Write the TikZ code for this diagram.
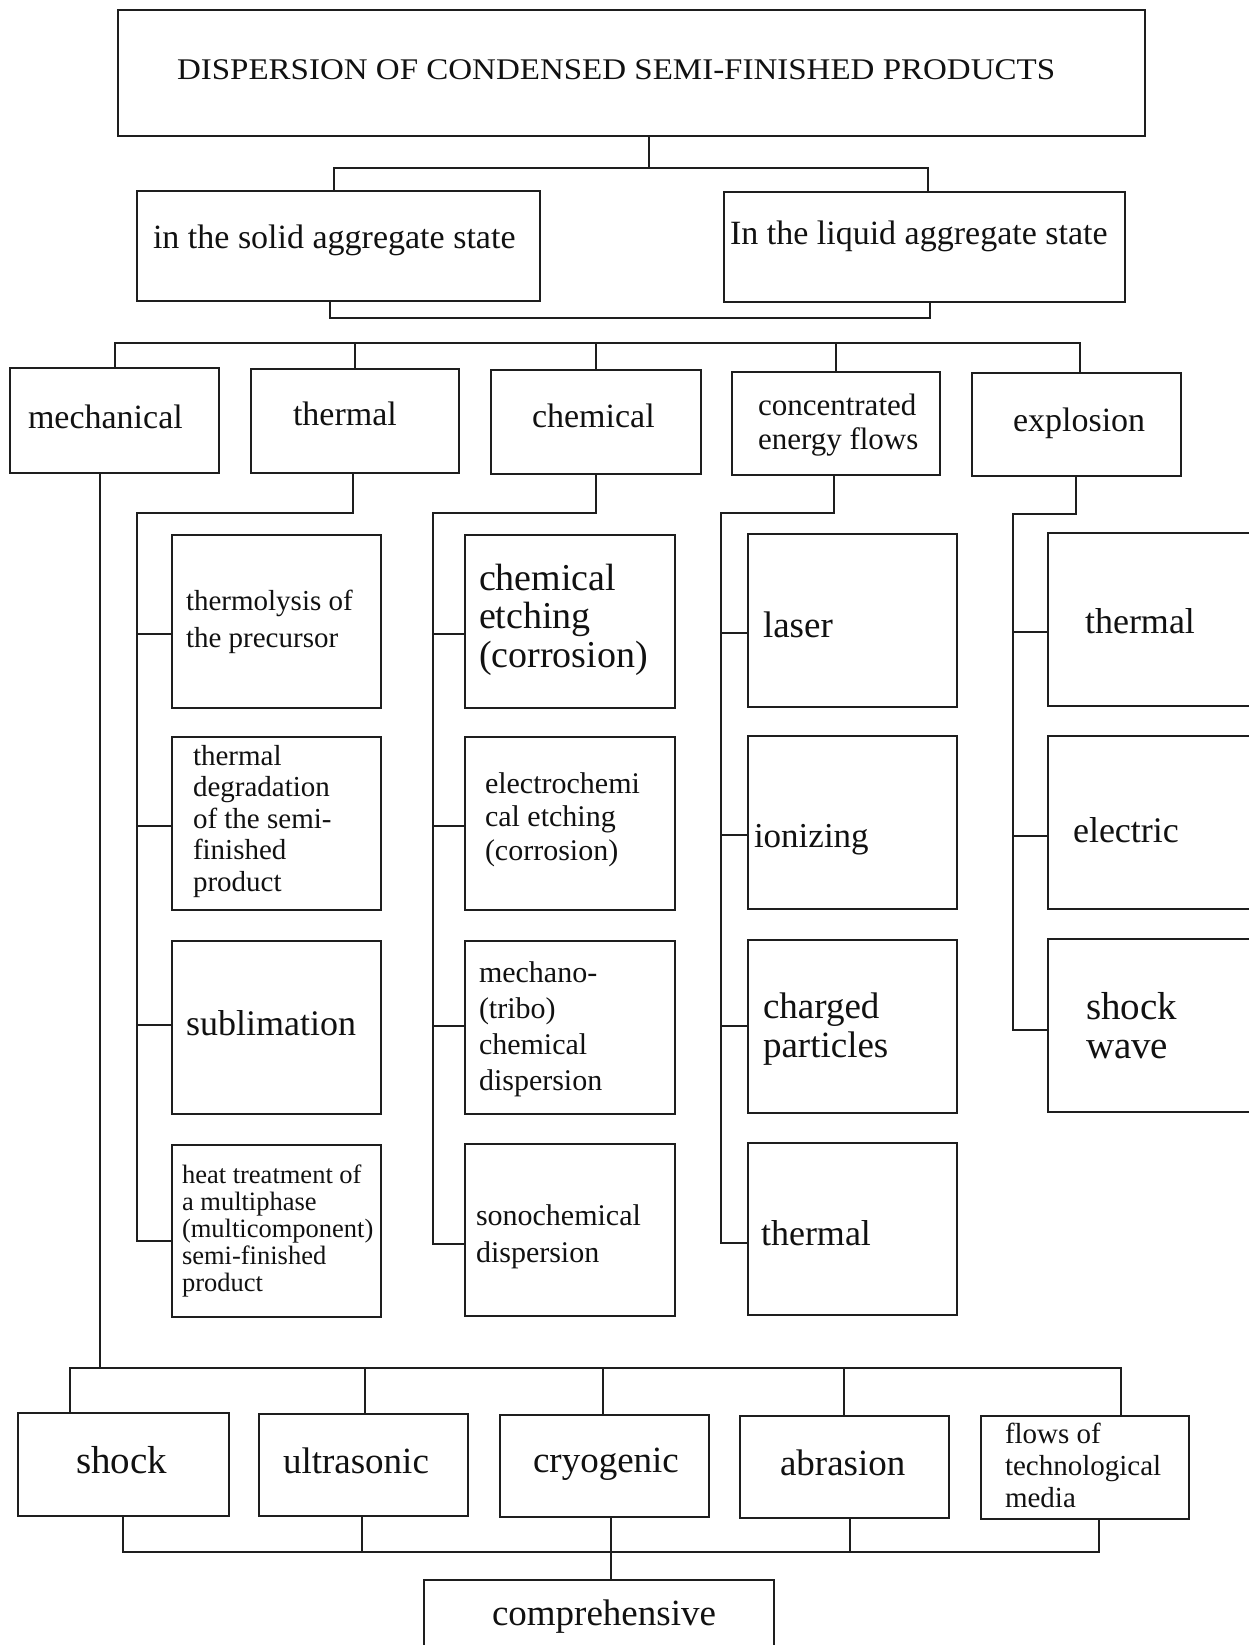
\documentclass[tikz,border=0pt]{standalone}
\usepackage{graphicx}
\usepackage{fontspec}
\setmainfont{Liberation Serif}
\definecolor{linec}{HTML}{1E1E1E}
\definecolor{txtc}{HTML}{111111}
\tikzset{
  bx/.style={draw=linec, line width=2.4pt, inner sep=0pt, outer sep=0pt, rectangle},
  ln/.style={draw=linec, line width=2pt, line cap=rect},
  tx/.style={inner sep=0pt, outer sep=0pt, anchor=base west, align=left, text=txtc},
}
\newcommand\mybox[5]{\node[bx, minimum width={(#4)-(#2)}, minimum height={(#5)-(#3)}] (#1) at ({((#2)+(#4))/2},{((#3)+(#5))/2}) {};}
% #3 = baseline of the LAST line
\newcommand\lbl[6]{\node[tx, font=\fontsize{#4}{#5}\selectfont] (#1) at (#2,#3) {#6};}
\begin{document}
\begin{tikzpicture}[x=1pt,y=-1pt]
\useasboundingbox[fill=white] (0,0) rectangle (1248,1645);
% boxes
\mybox{top}{118}{10}{1145}{136}
\mybox{solid}{137}{191}{540}{301}
\mybox{liquid}{724}{192}{1125}{302}
\mybox{mech}{10}{368}{219}{473}
\mybox{therm}{251}{369}{459}{473}
\mybox{chem}{491}{370}{701}{474}
\mybox{conc}{732}{372}{940}{475}
\mybox{expl}{972}{373}{1181}{476}
\mybox{t1}{172}{535}{381}{708}
\mybox{t2}{172}{737}{381}{910}
\mybox{t3}{172}{941}{381}{1114}
\mybox{t4}{172}{1145}{381}{1317}
\mybox{c1}{465}{535}{675}{708}
\mybox{c2}{465}{737}{675}{910}
\mybox{c3}{465}{941}{675}{1114}
\mybox{c4}{465}{1144}{675}{1316}
\mybox{e1}{748}{534}{957}{707}
\mybox{e2}{748}{736}{957}{909}
\mybox{e3}{748}{940}{957}{1113}
\mybox{e4}{748}{1143}{957}{1315}
\mybox{x1}{1048}{533}{1262}{706}
\mybox{x2}{1048}{736}{1262}{909}
\mybox{x3}{1048}{939}{1262}{1112}
\mybox{shock}{18}{1413}{229}{1516}
\mybox{ultra}{259}{1414}{468}{1516}
\mybox{cryo}{500}{1415}{709}{1517}
\mybox{abra}{740}{1416}{949}{1518}
\mybox{flows}{981}{1416}{1189}{1519}
\mybox{comp}{424}{1580}{774}{1670}
% texts
\lbl{ttop}{177}{80}{30}{34}{\scalebox{1.1}[1]{DISPERSION OF CONDENSED SEMI-FINISHED PRODUCTS}}
\lbl{tsolid}{153}{248}{34}{38}{in the solid aggregate state}
\lbl{tliquid}{730}{245}{34}{38}{In the liquid aggregate state}
\lbl{tmech}{28}{428}{34}{38}{mechanical}
\lbl{ttherm}{293}{425}{34}{38}{thermal}
\lbl{tchem}{532}{427}{34}{38}{chemical}
\lbl{tconc}{758}{449}{31}{34}{concentrated\\energy flows}
\lbl{texpl}{1013}{431}{34}{38}{explosion}
\lbl{tt1}{186}{647}{29}{37}{thermolysis of\\the precursor}
\lbl{tt2}{193}{891}{29}{31.5}{thermal\\degradation\\of the semi-\\finished\\product}
\lbl{tt3}{186}{1035}{36}{40}{sublimation}
\lbl{tt4}{182}{1291}{26.5}{27}{heat treatment of\\a multiphase\\(multicomponent)\\semi-finished\\product}
\lbl{tc1}{479}{667}{38}{38.5}{chemical\\etching\\(corrosion)}
\lbl{tc2}{485}{860}{30}{33.5}{electrochemi\\cal etching\\(corrosion)}
\lbl{tc3}{479}{1090}{30}{36}{mechano-\\(tribo)\\chemical\\dispersion}
\lbl{tc4}{476}{1262}{30}{37}{sonochemical\\dispersion}
\lbl{te1}{763}{637}{37}{40}{laser}
\lbl{te2}{754}{847}{35}{40}{ionizing}
\lbl{te3}{763}{1057}{37}{39}{charged\\particles}
\lbl{te4}{761}{1245}{36}{40}{thermal}
\lbl{tx1}{1085}{633}{36}{40}{thermal}
\lbl{tx2}{1073}{842}{36}{40}{electric}
\lbl{tx3}{1086}{1058}{39}{39}{shock\\wave}
\lbl{tshock}{76}{1473}{39}{42}{shock}
\lbl{tultra}{283}{1473}{37}{40}{ultrasonic}
\lbl{tcryo}{533}{1472}{37}{40}{cryogenic}
\lbl{tabra}{780}{1475}{37}{40}{abrasion}
\lbl{tflows}{1005}{1507}{29}{32}{flows of\\technological\\media}
\lbl{tcomp}{492}{1625}{37}{40}{comprehensive}
% junction coordinates
\coordinate (j1) at (649,168);
\coordinate (b1L) at (334,168);
\coordinate (b1R) at (928,168);
\coordinate (b2L) at (330,318);
\coordinate (b2R) at (930,318);
\coordinate (b3L) at (115,343);
\coordinate (b3R) at (1080,343);
\coordinate (mspine) at (100,1368);
\coordinate (thJ) at (353,513);
\coordinate (thS) at (137,513);
\coordinate (chJ) at (596,513);
\coordinate (chS) at (433,513);
\coordinate (coJ) at (834,513);
\coordinate (coS) at (721,513);
\coordinate (exJ) at (1076,514);
\coordinate (exS) at (1013,514);
\coordinate (b4L) at (70,1368);
\coordinate (b4R) at (1121,1368);
\coordinate (b5L) at (123,1552);
\coordinate (b5R) at (1099,1552);
\coordinate (b5C) at (611,1552);
% level 1
\draw[ln] (top.south -| j1) -- (j1);
\draw[ln] (solid.north -| b1L) -- (b1L) -- (b1R) -- (liquid.north -| b1R);
\draw[ln] (solid.south -| b2L) -- (b2L) -- (b2R) -- (liquid.south -| b2R);
% level 2 bus
\draw[ln] (mech.north -| b3L) -- (b3L) -- (b3R) -- (expl.north -| b3R);
\draw[ln] (therm.north) -- (therm.north |- b3L);
\draw[ln] (chem.north) -- (chem.north |- b3L);
\draw[ln] (conc.north) -- (conc.north |- b3L);
% mechanical spine
\draw[ln] (mech.south -| mspine) -- (mspine);
% thermal branch
\draw[ln] (therm.south -| thJ) -- (thJ) -- (thS) -- (thS |- 0,1241) -- (t4.west |- 0,1241);
\draw[ln] (thS |- 0,634) -- (t1.west |- 0,634);
\draw[ln] (thS |- 0,826) -- (t2.west |- 0,826);
\draw[ln] (thS |- 0,1025) -- (t3.west |- 0,1025);
% chemical branch
\draw[ln] (chem.south -| chJ) -- (chJ) -- (chS) -- (chS |- 0,1244) -- (c4.west |- 0,1244);
\draw[ln] (chS |- 0,634) -- (c1.west |- 0,634);
\draw[ln] (chS |- 0,826) -- (c2.west |- 0,826);
\draw[ln] (chS |- 0,1026) -- (c3.west |- 0,1026);
% concentrated branch
\draw[ln] (conc.south -| coJ) -- (coJ) -- (coS) -- (coS |- 0,1243) -- (e4.west |- 0,1243);
\draw[ln] (coS |- 0,633) -- (e1.west |- 0,633);
\draw[ln] (coS |- 0,835) -- (e2.west |- 0,835);
\draw[ln] (coS |- 0,1026) -- (e3.west |- 0,1026);
% explosion branch
\draw[ln] (expl.south -| exJ) -- (exJ) -- (exS) -- (exS |- 0,1030) -- (x3.west |- 0,1030);
\draw[ln] (exS |- 0,632) -- (x1.west |- 0,632);
\draw[ln] (exS |- 0,836) -- (x2.west |- 0,836);
% bottom buses
\draw[ln] (shock.north -| b4L) -- (b4L) -- (b4R) -- (flows.north -| b4R);
\draw[ln] (ultra.north -| 365,0) -- (365,1368);
\draw[ln] (cryo.north -| 603,0) -- (603,1368);
\draw[ln] (abra.north -| 844,0) -- (844,1368);
\draw[ln] (shock.south -| b5L) -- (b5L) -- (b5R) -- (flows.south -| b5R);
\draw[ln] (ultra.south -| 362,0) -- (362,1552);
\draw[ln] (cryo.south -| b5C) -- (b5C) -- (comp.north -| b5C);
\draw[ln] (abra.south -| 850,0) -- (850,1552);
\end{tikzpicture}
\end{document}
